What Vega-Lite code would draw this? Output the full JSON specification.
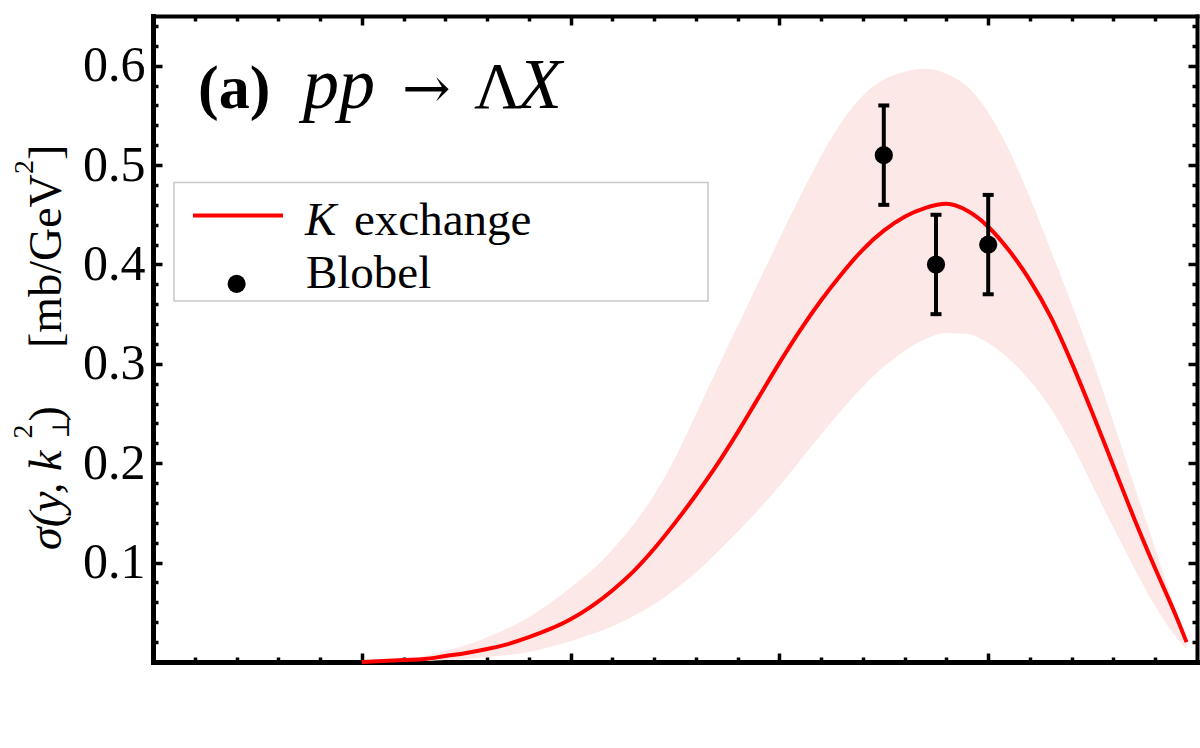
{
  "$schema": "https://vega.github.io/schema/vega-lite/v6.json",
  "width": 1044,
  "height": 646,
  "autosize": {"type": "none"},
  "padding": {"left": 153, "top": 16, "right": 3, "bottom": 86},
  "background": "white",
  "config": {"view": {"stroke": null}, "axis": {"grid": false}},
  "datasets": {
    "kexchange": [
      {"x": 0.20, "mid": 0.000, "lo": 0.000, "hi": 0.000},
      {"x": 0.22, "mid": 0.001, "lo": 0.000, "hi": 0.001},
      {"x": 0.24, "mid": 0.002, "lo": 0.001, "hi": 0.003},
      {"x": 0.26, "mid": 0.003, "lo": 0.001, "hi": 0.006},
      {"x": 0.28, "mid": 0.006, "lo": 0.002, "hi": 0.011},
      {"x": 0.30, "mid": 0.009, "lo": 0.003, "hi": 0.017},
      {"x": 0.32, "mid": 0.013, "lo": 0.005, "hi": 0.025},
      {"x": 0.34, "mid": 0.018, "lo": 0.007, "hi": 0.034},
      {"x": 0.36, "mid": 0.025, "lo": 0.010, "hi": 0.045},
      {"x": 0.38, "mid": 0.033, "lo": 0.015, "hi": 0.059},
      {"x": 0.40, "mid": 0.043, "lo": 0.021, "hi": 0.075},
      {"x": 0.42, "mid": 0.056, "lo": 0.028, "hi": 0.092},
      {"x": 0.44, "mid": 0.072, "lo": 0.036, "hi": 0.113},
      {"x": 0.46, "mid": 0.091, "lo": 0.046, "hi": 0.138},
      {"x": 0.48, "mid": 0.114, "lo": 0.058, "hi": 0.168},
      {"x": 0.50, "mid": 0.140, "lo": 0.073, "hi": 0.205},
      {"x": 0.52, "mid": 0.168, "lo": 0.090, "hi": 0.249},
      {"x": 0.54, "mid": 0.198, "lo": 0.110, "hi": 0.294},
      {"x": 0.56, "mid": 0.231, "lo": 0.131, "hi": 0.338},
      {"x": 0.58, "mid": 0.266, "lo": 0.153, "hi": 0.382},
      {"x": 0.60, "mid": 0.301, "lo": 0.177, "hi": 0.426},
      {"x": 0.62, "mid": 0.334, "lo": 0.203, "hi": 0.469},
      {"x": 0.64, "mid": 0.364, "lo": 0.229, "hi": 0.509},
      {"x": 0.66, "mid": 0.391, "lo": 0.254, "hi": 0.544},
      {"x": 0.68, "mid": 0.415, "lo": 0.277, "hi": 0.570},
      {"x": 0.70, "mid": 0.434, "lo": 0.297, "hi": 0.586},
      {"x": 0.72, "mid": 0.448, "lo": 0.313, "hi": 0.594},
      {"x": 0.74, "mid": 0.457, "lo": 0.325, "hi": 0.597},
      {"x": 0.76, "mid": 0.461, "lo": 0.331, "hi": 0.592},
      {"x": 0.78, "mid": 0.454, "lo": 0.330, "hi": 0.579},
      {"x": 0.80, "mid": 0.438, "lo": 0.321, "hi": 0.553},
      {"x": 0.82, "mid": 0.414, "lo": 0.305, "hi": 0.515},
      {"x": 0.84, "mid": 0.384, "lo": 0.283, "hi": 0.467},
      {"x": 0.86, "mid": 0.347, "lo": 0.255, "hi": 0.414},
      {"x": 0.88, "mid": 0.301, "lo": 0.219, "hi": 0.360},
      {"x": 0.90, "mid": 0.250, "lo": 0.177, "hi": 0.303},
      {"x": 0.92, "mid": 0.197, "lo": 0.135, "hi": 0.241},
      {"x": 0.94, "mid": 0.144, "lo": 0.094, "hi": 0.177},
      {"x": 0.96, "mid": 0.094, "lo": 0.056, "hi": 0.114},
      {"x": 0.98, "mid": 0.046, "lo": 0.025, "hi": 0.051},
      {"x": 0.99, "mid": 0.020, "lo": 0.013, "hi": 0.022}
    ],
    "blobel": [
      {"x": 0.70, "sigma": 0.51, "lo": 0.46, "hi": 0.56},
      {"x": 0.75, "sigma": 0.40, "lo": 0.35, "hi": 0.45},
      {"x": 0.80, "sigma": 0.42, "lo": 0.37, "hi": 0.47}
    ],
    "one": [{}]
  },
  "resolve": {"axis": {"x": "independent", "y": "independent"}},
  "layer": [
    {
      "data": {"name": "kexchange"},
      "mark": {"type": "area", "color": "#fde8e8", "interpolate": "monotone"},
      "encoding": {
        "x": {"field": "x", "type": "quantitative",
          "scale": {"domain": [0, 1], "nice": false, "zero": false},
          "axis": {"orient": "bottom", "title": null, "values": [0.2, 0.4, 0.6, 0.8], "labels": false,
            "tickSize": -9, "tickWidth": 3.5, "tickColor": "black",
            "domain": true, "domainColor": "black", "domainWidth": 5, "domainCap": "square", "grid": false}},
        "y": {"field": "lo", "type": "quantitative",
          "scale": {"domain": [0, 0.65], "nice": false, "zero": false},
          "axis": {"orient": "left", "title": null, "values": [0.1, 0.2, 0.3, 0.4, 0.5, 0.6], "format": ".1f",
            "labelFont": "Liberation Serif", "labelFontSize": 50, "labelColor": "black", "labelPadding": 17,
            "labelOverlap": false, "labelFlush": false, "labelBound": false,
            "tickSize": -9, "tickWidth": 3.5, "tickColor": "black",
            "domain": true, "domainColor": "black", "domainWidth": 5, "domainCap": "square", "grid": false}},
        "y2": {"field": "hi"}
      }
    },
    {
      "data": {"name": "kexchange"},
      "mark": {"type": "line", "color": "#ff0000", "strokeWidth": 4, "interpolate": "monotone"},
      "encoding": {
        "x": {"field": "x", "type": "quantitative",
          "axis": {"orient": "bottom", "title": null, "labels": false, "domain": false, "grid": false,
            "values": [0.04, 0.08, 0.12, 0.16, 0.24, 0.28, 0.32, 0.36, 0.44, 0.48, 0.52, 0.56, 0.64, 0.68, 0.72, 0.76, 0.84, 0.88, 0.92, 0.96],
            "tickSize": -5, "tickWidth": 3.5, "tickColor": "black"}},
        "y": {"field": "mid", "type": "quantitative",
          "axis": {"orient": "left", "title": null, "labels": false, "domain": false, "grid": false,
            "values": [0.02, 0.04, 0.06, 0.08, 0.12, 0.14, 0.16, 0.18, 0.22, 0.24, 0.26, 0.28, 0.32, 0.34, 0.36, 0.38, 0.42, 0.44, 0.46, 0.48, 0.52, 0.54, 0.56, 0.58, 0.62, 0.64],
            "tickSize": -5, "tickWidth": 3.5, "tickColor": "black"}}
      }
    },
    {
      "data": {"name": "blobel"},
      "mark": {"type": "rule", "color": "black", "strokeWidth": 4, "opacity": 1},
      "encoding": {
        "x": {"field": "x", "type": "quantitative",
          "axis": {"orient": "top", "title": null, "values": [0.2, 0.4, 0.6, 0.8], "labels": false,
            "tickSize": -9, "tickWidth": 3.5, "tickColor": "black",
            "domain": true, "domainColor": "black", "domainWidth": 4, "domainCap": "square", "grid": false}},
        "y": {"field": "lo", "type": "quantitative",
          "axis": {"orient": "right", "title": null, "values": [0.1, 0.2, 0.3, 0.4, 0.5, 0.6], "labels": false,
            "tickSize": -9, "tickWidth": 3.5, "tickColor": "black",
            "domain": true, "domainColor": "black", "domainWidth": 4, "domainCap": "square", "grid": false}},
        "y2": {"field": "hi"}
      }
    },
    {
      "data": {"name": "blobel"},
      "mark": {"type": "tick", "color": "black", "opacity": 1, "orient": "horizontal", "size": 11, "thickness": 4},
      "encoding": {
        "x": {"field": "x", "type": "quantitative",
          "axis": {"orient": "top", "title": null, "labels": false, "domain": false, "grid": false,
            "values": [0.04, 0.08, 0.12, 0.16, 0.24, 0.28, 0.32, 0.36, 0.44, 0.48, 0.52, 0.56, 0.64, 0.68, 0.72, 0.76, 0.84, 0.88, 0.92, 0.96],
            "tickSize": -5, "tickWidth": 3.5, "tickColor": "black"}},
        "y": {"field": "hi", "type": "quantitative",
          "axis": {"orient": "right", "title": null, "labels": false, "domain": false, "grid": false,
            "values": [0.02, 0.04, 0.06, 0.08, 0.12, 0.14, 0.16, 0.18, 0.22, 0.24, 0.26, 0.28, 0.32, 0.34, 0.36, 0.38, 0.42, 0.44, 0.46, 0.48, 0.52, 0.54, 0.56, 0.58, 0.62, 0.64],
            "tickSize": -5, "tickWidth": 3.5, "tickColor": "black"}}
      }
    },
    {
      "data": {"name": "blobel"},
      "mark": {"type": "tick", "color": "black", "opacity": 1, "orient": "horizontal", "size": 11, "thickness": 4},
      "encoding": {
        "x": {"field": "x", "type": "quantitative", "axis": null},
        "y": {"field": "lo", "type": "quantitative", "axis": null}
      }
    },
    {
      "data": {"name": "blobel"},
      "mark": {"type": "point", "filled": true, "color": "black", "opacity": 1, "size": 330},
      "encoding": {
        "x": {"field": "x", "type": "quantitative", "axis": null},
        "y": {"field": "sigma", "type": "quantitative", "axis": null}
      }
    },
    {
      "data": {"name": "one"},
      "mark": {"type": "rect", "fill": "white", "stroke": "#c8c8c8", "strokeWidth": 1.5},
      "encoding": {
        "x": {"datum": 0.0201, "axis": null}, "x2": {"datum": 0.5316},
        "y": {"datum": 0.3632, "axis": null}, "y2": {"datum": 0.4825}
      }
    },
    {
      "data": {"name": "one"},
      "mark": {"type": "rule", "color": "#ff0000", "strokeWidth": 4},
      "encoding": {
        "x": {"datum": 0.0383, "axis": null}, "x2": {"datum": 0.1245},
        "y": {"datum": 0.4492, "axis": null}
      }
    },
    {
      "data": {"name": "one"},
      "mark": {"type": "point", "filled": true, "color": "black", "opacity": 1, "size": 330},
      "encoding": {
        "x": {"datum": 0.0801, "axis": null},
        "y": {"datum": 0.3804, "axis": null}
      }
    },
    {
      "data": {"name": "one"},
      "mark": {"type": "text", "text": "K", "font": "Liberation Serif", "fontStyle": "italic", "fontSize": 47, "align": "left", "baseline": "alphabetic", "color": "black"},
      "encoding": {"x": {"datum": 0.1456, "axis": null}, "y": {"datum": 0.4297, "axis": null}}
    },
    {
      "data": {"name": "one"},
      "mark": {"type": "text", "text": "exchange", "font": "Liberation Serif", "fontSize": 47, "align": "left", "baseline": "alphabetic", "color": "black"},
      "encoding": {"x": {"datum": 0.1925, "axis": null}, "y": {"datum": 0.4297, "axis": null}}
    },
    {
      "data": {"name": "one"},
      "mark": {"type": "text", "text": "Blobel", "font": "Liberation Serif", "fontSize": 47, "align": "left", "baseline": "alphabetic", "color": "black"},
      "encoding": {"x": {"datum": 0.1465, "axis": null}, "y": {"datum": 0.3763, "axis": null}}
    },
    {
      "data": {"name": "one"},
      "mark": {"type": "text", "text": "(a)", "font": "Liberation Serif", "fontWeight": "bold", "fontSize": 62, "align": "left", "baseline": "alphabetic", "color": "black"},
      "encoding": {"x": {"datum": 0.0431, "axis": null}, "y": {"datum": 0.5575, "axis": null}}
    },
    {
      "data": {"name": "one"},
      "mark": {"type": "text", "text": "pp", "font": "Liberation Serif", "fontStyle": "italic", "fontSize": 72, "align": "left", "baseline": "alphabetic", "color": "black"},
      "encoding": {"x": {"datum": 0.1437, "axis": null}, "y": {"datum": 0.5575, "axis": null}}
    },
    {
      "data": {"name": "one"},
      "mark": {"type": "text", "text": "→", "font": "DejaVu Serif", "fontSize": 58, "align": "left", "baseline": "alphabetic", "color": "black"},
      "encoding": {"x": {"datum": 0.2385, "axis": null}, "y": {"datum": 0.5575, "axis": null}}
    },
    {
      "data": {"name": "one"},
      "mark": {"type": "text", "text": "Λ", "font": "Liberation Serif", "fontSize": 66, "align": "left", "baseline": "alphabetic", "color": "black"},
      "encoding": {"x": {"datum": 0.3075, "axis": null}, "y": {"datum": 0.5575, "axis": null}}
    },
    {
      "data": {"name": "one"},
      "mark": {"type": "text", "text": "X", "font": "Liberation Serif", "fontStyle": "italic", "fontSize": 72, "align": "left", "baseline": "alphabetic", "color": "black"},
      "encoding": {"x": {"datum": 0.3495, "axis": null}, "y": {"datum": 0.5575, "axis": null}}
    },
    {
      "data": {"name": "one"},
      "mark": {"type": "text", "text": "σ(y, k", "font": "Liberation Serif", "fontStyle": "italic", "fontSize": 46, "angle": 270, "align": "left", "baseline": "alphabetic", "color": "black"},
      "encoding": {"x": {"datum": -0.0881, "axis": null}, "y": {"datum": 0.1127, "axis": null}}
    },
    {
      "data": {"name": "one"},
      "mark": {"type": "text", "text": "2", "font": "Liberation Serif", "fontSize": 28, "angle": 270, "align": "left", "baseline": "alphabetic", "color": "black"},
      "encoding": {"x": {"datum": -0.1159, "axis": null}, "y": {"datum": 0.2250, "axis": null}}
    },
    {
      "data": {"name": "one"},
      "mark": {"type": "text", "text": "⊥", "font": "DejaVu Serif", "fontSize": 24, "angle": 270, "align": "left", "baseline": "alphabetic", "color": "black"},
      "encoding": {"x": {"datum": -0.0800, "axis": null}, "y": {"datum": 0.2250, "axis": null}}
    },
    {
      "data": {"name": "one"},
      "mark": {"type": "text", "text": ")", "font": "Liberation Serif", "fontSize": 46, "angle": 270, "align": "left", "baseline": "alphabetic", "color": "black"},
      "encoding": {"x": {"datum": -0.0881, "axis": null}, "y": {"datum": 0.2420, "axis": null}}
    },
    {
      "data": {"name": "one"},
      "mark": {"type": "text", "text": "[mb/GeV", "font": "Liberation Serif", "fontSize": 46, "angle": 270, "align": "left", "baseline": "alphabetic", "color": "black"},
      "encoding": {"x": {"datum": -0.0881, "axis": null}, "y": {"datum": 0.3160, "axis": null}}
    },
    {
      "data": {"name": "one"},
      "mark": {"type": "text", "text": "2", "font": "Liberation Serif", "fontSize": 28, "angle": 270, "align": "left", "baseline": "alphabetic", "color": "black"},
      "encoding": {"x": {"datum": -0.1149, "axis": null}, "y": {"datum": 0.4910, "axis": null}}
    },
    {
      "data": {"name": "one"},
      "mark": {"type": "text", "text": "]", "font": "Liberation Serif", "fontSize": 46, "angle": 270, "align": "left", "baseline": "alphabetic", "color": "black"},
      "encoding": {"x": {"datum": -0.0881, "axis": null}, "y": {"datum": 0.5051, "axis": null}}
    }
  ]
}
